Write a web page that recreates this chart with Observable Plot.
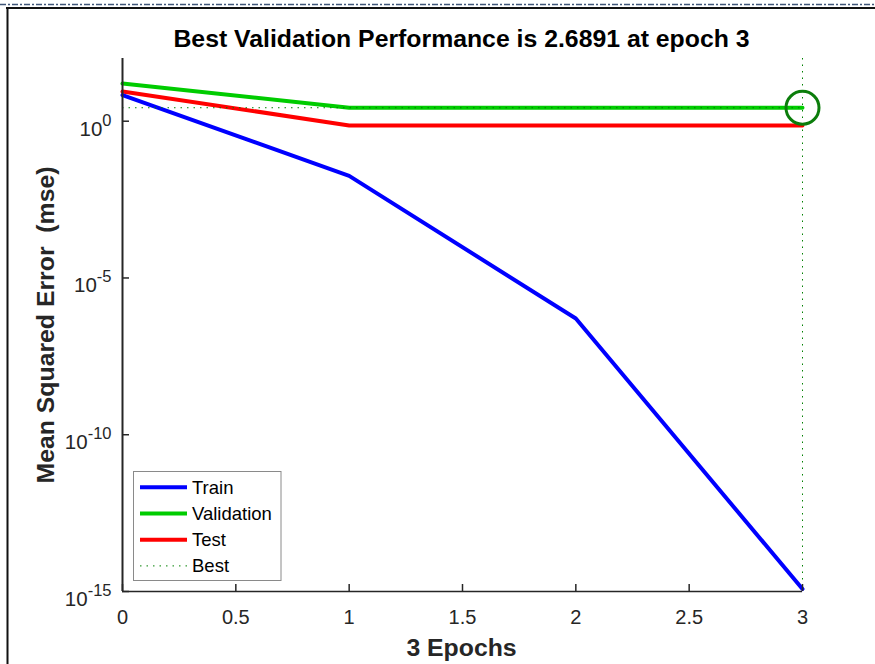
<!DOCTYPE html>
<html><head><meta charset="utf-8">
<script src="https://cdn.jsdelivr.net/npm/d3@7"></script>
<script src="https://cdn.jsdelivr.net/npm/@observablehq/plot@0.6"></script>
<style>
body{margin:0;background:#fff;}
#wrap{position:relative;width:875px;height:664px;overflow:hidden;background:#fff;}
#wrap > svg{position:absolute;left:0;top:0;}
</style></head><body><div id="wrap"></div>
<script>
// ---- data ----
const epochs = [0, 1, 2, 3];
const trainPerf = [6.8, 0.018, 5.1e-7, 1.2e-15];
const valPerf = [15.9, 2.6893, 2.6892, 2.6891];
const testPerf = [8.9, 0.735, 0.735, 0.735];
const bestEpoch = 3;
const bestPerf = 2.6891;
const xTicks = [0, 0.5, 1, 1.5, 2, 2.5, 3];
const yTicks = [1e0, 1e-5, 1e-10, 1e-15];
const yExponents = ["0", "-5", "-10", "-15"];
const seriesNames = ["Train", "Validation", "Test", "Best"];
const seriesColors = ["#0000ff", "#00cc00", "#ff0000", "#008000"];
const titleText = "Best Validation Performance is 2.6891 at epoch 3";
const xLabel = "3 Epochs";
const yLabel = "Mean Squared Error  (mse)";

const FONT = "'Liberation Sans', Arial, Helvetica, sans-serif";
const rows = vals => epochs.map((e, i) => ({epoch: e, mse: vals[i]}));

const chart = Plot.plot({
  width: 875, height: 664,
  marginLeft: 122, marginRight: 73, marginTop: 58, marginBottom: 73,
  style: {fontFamily: FONT, fontSize: "20px", color: "#262626", background: "transparent", overflow: "visible"},
  x: {domain: [0, 3]},
  y: {type: "log", domain: [1e-15, 1e2]},
  marks: [
    Plot.line(rows(testPerf), {x: "epoch", y: "mse", stroke: seriesColors[2], strokeWidth: 4}),
    Plot.line(rows(valPerf), {x: "epoch", y: "mse", stroke: seriesColors[1], strokeWidth: 4}),
    Plot.line(rows(trainPerf), {x: "epoch", y: "mse", stroke: seriesColors[0], strokeWidth: 4}),
    Plot.ruleY([bestPerf], {stroke: seriesColors[3], strokeWidth: 1, strokeDasharray: "1.5,5"}),
    Plot.ruleX([bestEpoch], {stroke: seriesColors[3], strokeWidth: 1, strokeDasharray: "1.5,5"}),
    Plot.dot([{epoch: bestEpoch, mse: bestPerf}], {x: "epoch", y: "mse", r: 16.5, stroke: "#0b7d0b", strokeWidth: 3, fill: "none"}),
    Plot.ruleX([0], {stroke: "#262626", strokeWidth: 2}),
    Plot.ruleY([1e-15], {stroke: "#262626", strokeWidth: 1.5}),
    Plot.axisX({ticks: xTicks, tickSize: -7, tickPadding: 25, tickFormat: d => String(d), label: null, strokeWidth: 1.5, fontSize: 20}),
    Plot.axisY({ticks: yTicks, tickSize: -7, tickPadding: 18, tickFormat: d => "10^" + yExponents[yTicks.indexOf(d)], label: null, strokeWidth: 1.5, fontSize: 20.5})
  ]
});

// superscript exponents on log tick labels
d3.select(chart).selectAll('[aria-label="y-axis tick label"] text').each(function() {
  const t = d3.select(this);
  const s = t.text();
  const exp = s.split("^")[1];
  const dy = this.getAttribute("dy"); if (dy && /em$/.test(dy)) this.removeAttribute("dy");
  const ya = this.getAttribute("y"); if (ya && /em$/.test(ya)) this.setAttribute("y", "0");
  t.text(null);
  t.append("tspan").attr("dy", 14.5).text("10");
  t.append("tspan").attr("dy", -10).attr("font-size", 16.5).text(exp);
});

const wrap = document.getElementById("wrap");
wrap.appendChild(chart);

// overlay: window frame, title, axis labels, legend
const ov = d3.select(wrap).append("svg").attr("width", 875).attr("height", 664)
  .style("font-family", FONT);

ov.append("line").attr("x1", 0).attr("x2", 875).attr("y1", 4.5).attr("y2", 4.5)
  .attr("stroke", "#3f5678").attr("stroke-width", 1.5).attr("stroke-dasharray", "6,2,2,2");
ov.append("line").attr("x1", 6).attr("x2", 875).attr("y1", 8).attr("y2", 8)
  .attr("stroke", "#111").attr("stroke-width", 2);
ov.append("line").attr("x1", 7.5).attr("x2", 7.5).attr("y1", 7).attr("y2", 664)
  .attr("stroke", "#111").attr("stroke-width", 2);

ov.append("text").attr("x", 461.5).attr("y", 47).attr("text-anchor", "middle")
  .attr("font-weight", "bold").attr("font-size", 24.8).attr("fill", "#000").text(titleText);
ov.append("text").attr("x", 461.5).attr("y", 656).attr("text-anchor", "middle")
  .attr("font-weight", "bold").attr("font-size", 24.8).attr("fill", "#262626").text(xLabel);
ov.append("text").attr("transform", "translate(54,325) rotate(-90)").attr("text-anchor", "middle")
  .attr("font-weight", "bold").attr("font-size", 24.8).attr("fill", "#262626")
  .style("white-space", "pre").attr("xml:space", "preserve").text(yLabel);

const lg = ov.append("g");
lg.append("rect").attr("x", 133.5).attr("y", 471.5).attr("width", 147.5).attr("height", 109)
  .attr("fill", "#fff").attr("stroke", "#8a8a8a").attr("stroke-width", 1);
seriesNames.forEach((name, i) => {
  const y = 487.3 + 26.2 * i;
  const best = i === 3;
  lg.append("line").attr("x1", 140).attr("x2", 187).attr("y1", y).attr("y2", y)
    .attr("stroke", seriesColors[i]).attr("stroke-width", best ? 1 : 4)
    .attr("stroke-dasharray", best ? "1.5,5" : null);
  lg.append("text").attr("x", 192).attr("y", y + 6.5).attr("font-size", 18.5).attr("fill", "#000").text(name);
});
</script></body></html>
